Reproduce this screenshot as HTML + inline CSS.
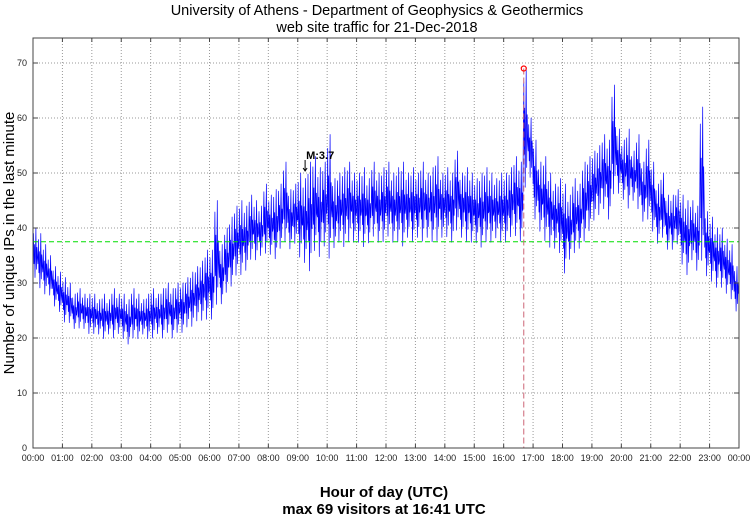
<!DOCTYPE html>
<html><head><meta charset="utf-8"><style>
body{margin:0;background:#fff;}
svg{display:block;font-family:"Liberation Sans",sans-serif;}
</style></head><body>
<svg id="chart" width="750" height="515" viewBox="0 0 750 515">
<text x="377" y="15" font-size="14.5" text-anchor="middle">University of Athens - Department of Geophysics &amp; Geothermics</text>
<text x="377" y="32" font-size="14.5" text-anchor="middle">web site traffic for 21-Dec-2018</text>
<g id="grid"></g>
<g id="series"></g>
<rect x="33" y="38" width="706" height="410" fill="none" stroke="#444" stroke-width="1"/>
<g id="axes"></g>
<text x="384" y="497" font-size="15" font-weight="bold" text-anchor="middle">Hour of day (UTC)</text>
<text x="384" y="514" font-size="15" font-weight="bold" text-anchor="middle">max 69 visitors at 16:41 UTC</text>
<text transform="translate(14,243) rotate(-90)" font-size="15" text-anchor="middle">Number of unique IPs in the last minute</text>
</svg>
<script>
const xTickLabels=["00:00","01:00","02:00","03:00","04:00","05:00","06:00","07:00","08:00","09:00","10:00","11:00","12:00","13:00","14:00","15:00","16:00","17:00","18:00","19:00","20:00","21:00","22:00","23:00","00:00"];
const yTicks=[0,10,20,30,40,50,60,70];
const binLow=[30,28,27,27,25,24, 22,22,21,21,21,20, 20,20,19,20,19,20, 19,18,19,19,20,19, 19,20,19,20,19,20, 20,21,21,22,22,22, 22,24,25,27,28,30, 30,31,33,33,34,34, 34,33,35,36,35,36, 33,32,30,34,33,35, 32,35,36,35,36,36, 36,35,36,37,36,36, 37,36,36,35,37,36, 37,36,37,36,36,37, 37,36,38,37,36,36, 36,35,36,36,37,36, 36,37,37,36,45,48, 40,38,36,35,35,34, 30,33,34,35,36,38, 40,41,42,40,44,45, 44,42,44,42,40,40, 38,36,37,35,35,36, 32,30,33,31,31,30, 29,28,28,27,26,24];
const binHigh=[40,39,37,35,33,32, 31,30,28,29,28,28, 28,27,28,27,29,28, 28,27,29,28,27,28, 29,28,29,30,29,30, 30,31,32,33,34,36, 36,45,37,40,42,44, 45,44,46,45,44,48, 46,47,48,52,47,48, 50,49,52,53,51,52, 57,49,50,51,52,50, 50,51,49,52,50,51, 52,50,51,52,50,51, 50,52,50,51,53,50, 51,50,54,50,51,50, 49,50,51,50,49,50, 50,51,53,52,69,60, 56,52,53,50,48,49, 48,46,49,48,52,53, 54,55,57,56,66,58, 56,58,54,57,52,56, 52,48,50,46,46,47, 46,45,45,44,62,43, 42,40,40,38,37,33];
const meanValue=37.5;
const maxValue=69, maxMinute=16*60+41;
const markLabel="M:3.7", markMinute=9*60+15, markValue=50;

const X0=33,X1=739,Y0=448,YS=5.5;
const x=m=>X0+(X1-X0)*m/1440;
const y=v=>Y0-v*YS;
const NS="http://www.w3.org/2000/svg";
function mk(tag,parent,attrs){const e=document.createElementNS(NS,tag);for(const k in attrs)e.setAttribute(k,attrs[k]);parent.appendChild(e);return e;}
const grid=document.getElementById('grid'),axes=document.getElementById('axes'),series=document.getElementById('series');
xTickLabels.forEach((l,i)=>{
  const xx=x(i*60);
  if(i>0&&i<24){const g=mk('line',grid,{x1:xx,x2:xx,y1:38,y2:448,stroke:'#999','stroke-dasharray':'1,2','stroke-width':1});
  }
  const t=mk('line',axes,{x1:xx,x2:xx,y1:448,y2:444,stroke:'#444'});
  
  const t2=mk('line',axes,{x1:xx,x2:xx,y1:38,y2:42,stroke:'#444'});
  
  const tx=mk('text',axes,{x:xx,y:461,'font-size':9,'text-anchor':'middle',fill:'#222'});tx.textContent=l;
  
});
yTicks.forEach(v=>{
  const yy=y(v);
  if(v>0){const g=mk('line',grid,{x1:33,x2:739,y1:yy,y2:yy,stroke:'#999','stroke-dasharray':'1,2','stroke-width':1});
  }
  const t=mk('line',axes,{x1:33,x2:38,y1:yy,y2:yy,stroke:'#444'});
  
  const t2=mk('line',axes,{x1:734,x2:739,y1:yy,y2:yy,stroke:'#444'});
  
  const tx=mk('text',axes,{x:27,y:yy+3,'font-size':9,'text-anchor':'end',fill:'#222'});tx.textContent=v;
  
});
const pts=[];
const fr=[0.55,0.9,0.35,0.7,0.1,0.6,1,0.25,0.65,0.45];
binLow.forEach((lo,i)=>{
  const hi=binHigh[i];
  for(let k=0;k<10;k++){
    const m=i*10+k;
    let v=lo+(hi-lo)*fr[k];
    if(i>0&&k===0)v=(lo+hi)/2;
    pts.push(x(m).toFixed(1)+','+y(v).toFixed(1));
  }
});
const pl=mk('polyline',series,{points:pts.join(' '),fill:'none',stroke:'#0000ff','stroke-width':0.7,'stroke-linejoin':'round'});

const ml=mk('line',series,{x1:33,x2:739,y1:y(meanValue),y2:y(meanValue),stroke:'#00dd00','stroke-dasharray':'5,3','stroke-width':1});

const vl=mk('line',series,{x1:x(maxMinute),x2:x(maxMinute),y1:y(maxValue),y2:448,stroke:'#cc6677','stroke-dasharray':'6,3','stroke-width':1});

const mc=mk('circle',series,{cx:x(maxMinute),cy:y(maxValue),r:2.5,fill:'none',stroke:'#ff0000','stroke-width':1.2});

const ax=x(markMinute);
const al=mk('path',series,{d:`M${ax},${y(markValue)-13} L${ax},${y(markValue)-2} M${ax-2},${y(markValue)-5} L${ax},${y(markValue)-2} L${ax+2},${y(markValue)-5}`,stroke:'#000',fill:'none','stroke-width':1});

const at=mk('text',series,{x:ax+1,y:y(markValue)-14,'font-size':11,'font-weight':'bold'});at.textContent=markLabel;

</script>
</body></html>
